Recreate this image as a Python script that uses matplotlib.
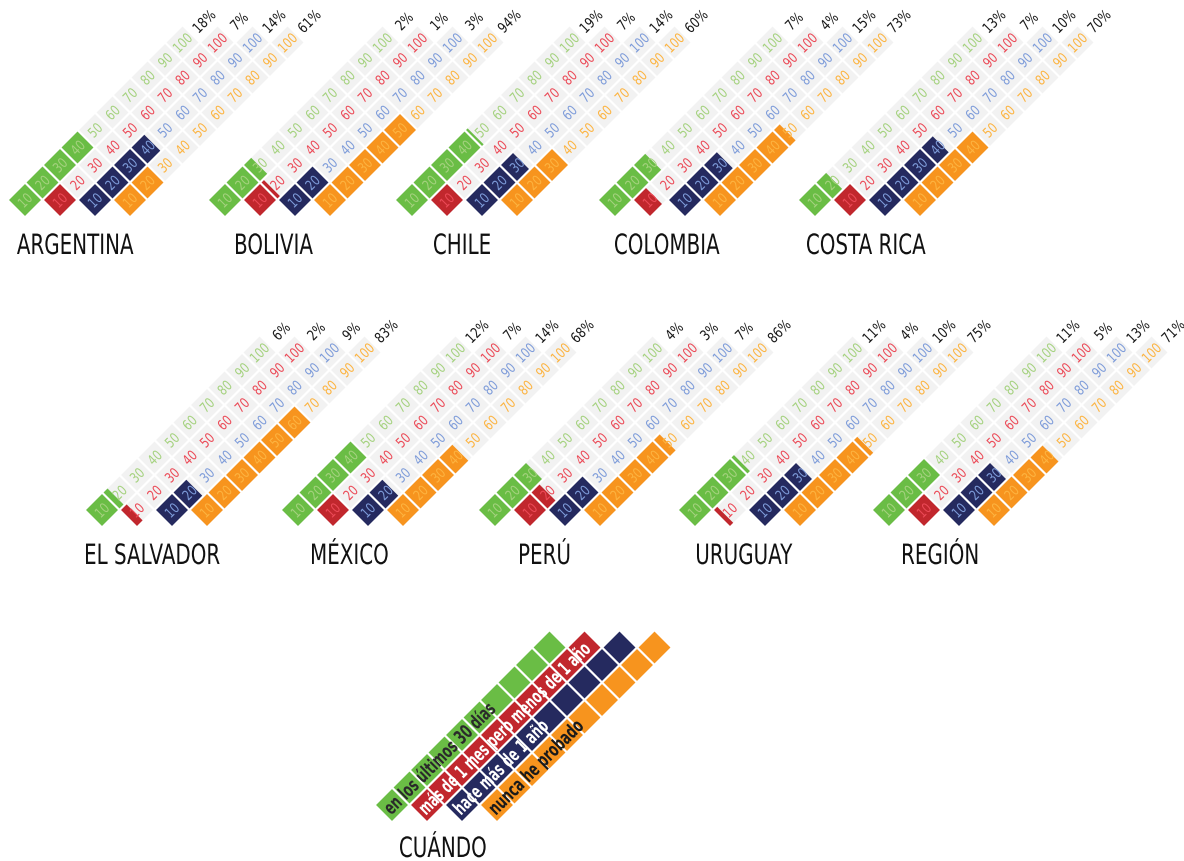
import numpy as np
import matplotlib.pyplot as plt
from matplotlib.patches import Polygon, PathPatch
from matplotlib.textpath import TextPath
from matplotlib.font_manager import FontProperties
from matplotlib.transforms import Affine2D

# ---- data ----
countries = ['ARGENTINA', 'BOLIVIA', 'CHILE', 'COLOMBIA', 'COSTA RICA',
             'EL SALVADOR', 'MÉXICO', 'PERÚ', 'URUGUAY', 'REGIÓN']
# percentage labels on top of each strip
pct_30d = [18, 2, 19, 7, 13, 6, 12, 4, 11, 11]
pct_year = [7, 1, 7, 4, 7, 2, 7, 3, 4, 5]
pct_over = [14, 3, 14, 15, 10, 9, 14, 7, 10, 13]
pct_never = [61, 94, 60, 73, 70, 83, 68, 86, 75, 71]
# filled level of each strip on its 10..100 scale
fill_30d = [40, 24.5, 41, 27, 16, 12.5, 40, 27.5, 31.5, 30]
fill_year = [10, 11.5, 10, 7.5, 10, 3.5, 10, 15, 2, 10]
fill_over = [38, 20, 27.5, 28, 37, 18, 18, 20, 27.5, 27.5]
fill_never = [20, 50, 30, 43.5, 40, 60, 38, 43.5, 42, 37.5]
scale_ticks = [10, 20, 30, 40, 50, 60, 70, 80, 90, 100]
legend_labels = ['en los últimos 30 días', 'más de 1 mes pero menos de 1 año',
                 'hace más de 1 año', 'nunca he probado']
legend_title = 'CUÁNDO'

# ---- layout (pixels, y down) ----
bases = [(25, 200), (225, 200), (412, 200), (615, 200), (815, 200),
         (102, 510), (298, 510), (495, 510), (695, 510), (889, 510)]
name_pos = [(17, 254), (236, 254), (434, 254), (615, 254), (807, 254),
            (86, 564), (312, 564), (520, 564), (697, 564), (903, 564)]
legend_base = (392, 805)
legend_len = [148, 233, 124, 124]   # run length of each legend text

fill_cols = ['#6ABD45', '#C1272D', '#252A5F', '#F7941E']
num_cols = ['#A5D27F', '#EC4A57', '#7E9CDA', '#FDB441']
grey = '#F2F2F2'
leg_txt = ['#2A2A2A', 'white', 'white', '#1A1A1A']

P = 24.75
GAP = 2.2
U = np.array([1.0, -1.0]) / np.sqrt(2)
V = np.array([1.0, 1.0]) / np.sqrt(2)


def cell_center(base, k, t):
    return np.array(base, float) + (t + k) * P * U + k * P * V


def cell_poly(base, k, i, frac=1.0):
    c = cell_center(base, k, i)
    h = (P - GAP) / 2
    a = c - h * U
    b = a + frac * (P - GAP) * U
    return [a - h * V, b - h * V, b + h * V, a + h * V]


def ptext(ax, x, y, s, size, color, sx=0.72, rot=0, ha='left', va='baseline',
          weight='normal', width=None):
    # text as a path so it can be squeezed like the condensed face of the original
    tp = TextPath((0, 0), s, size=size, prop=FontProperties(family='DejaVu Sans', weight=weight))
    ext = tp.get_extents()
    if width is not None:
        sx = width / ext.width
    if ha == 'left':
        dx = -ext.x0
    elif ha == 'center':
        dx = -(ext.x0 + ext.x1) / 2
    else:
        dx = -ext.x1
    dy = 0 if va == 'baseline' else -0.365 * size
    tr = Affine2D().translate(dx, dy).scale(sx, 1).rotate_deg(rot).scale(1, -1).translate(x, y)
    ax.add_patch(PathPatch(tr.transform_path(tp), fc=color, ec='none', lw=0))


fig = plt.figure(figsize=(11.84, 8.61), dpi=100)
ax = fig.add_axes([0, 0, 1, 1])
ax.set_xlim(0, 1184)
ax.set_ylim(861, 0)
ax.axis('off')

for n, name in enumerate(countries):
    base = bases[n]
    fills = [fill_30d[n], fill_year[n], fill_over[n], fill_never[n]]
    pcts = [pct_30d[n], pct_year[n], pct_over[n], pct_never[n]]
    for k in range(4):
        level = fills[k] / 10.0
        for i, tick in enumerate(scale_ticks):
            ax.add_patch(Polygon(cell_poly(base, k, i), closed=True, fc=grey, ec='none'))
            frac = min(max(level - i, 0), 1)
            if frac > 0:
                ax.add_patch(Polygon(cell_poly(base, k, i, frac), closed=True,
                                     fc=fill_cols[k], ec='none'))
            c = cell_center(base, k, i)
            ptext(ax, c[0], c[1], str(tick), 14, num_cols[k], sx=0.78, rot=45,
                  ha='center', va='center')
        c = cell_center(base, k, 10) + np.array([4, -4])
        ptext(ax, c[0], c[1], f'{pcts[k]}%', 14.5, '#1A1A1A', sx=0.8, rot=45,
              ha='center', va='center')
    ptext(ax, name_pos[n][0], name_pos[n][1], name, 28, '#111111', sx=0.71)

# ---- legend ----
for k in range(4):
    for i in range(10):
        ax.add_patch(Polygon(cell_poly(legend_base, k, i), closed=True,
                             fc=fill_cols[k], ec='none'))
    s = cell_center(legend_base, k, -0.3)
    ptext(ax, s[0], s[1], legend_labels[k], 19, leg_txt[k], rot=45,
          ha='left', va='center', weight='bold', width=legend_len[k])
ptext(ax, 400, 857, legend_title, 28, '#111111', sx=0.71)

fig.savefig('out.png', dpi=100)
